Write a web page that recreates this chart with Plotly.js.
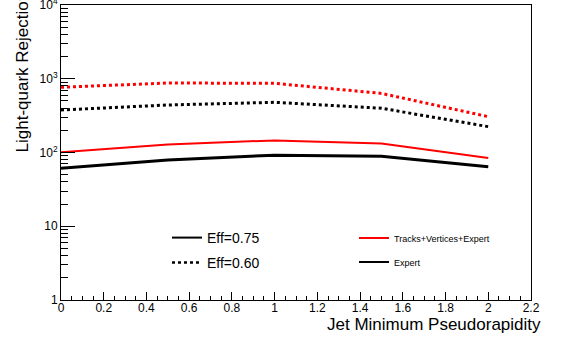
<!DOCTYPE html>
<html>
<head>
<meta charset="utf-8">
<script src="https://cdn.plot.ly/plotly-3.0.1.min.js"></script>
<style>html,body{margin:0;padding:0;background:#fff;}#chart{width:562px;height:341px;}</style>
</head>
<body>
<div id="chart"></div>
<script>
// Data
var eta = [0, 0.5, 1, 1.5, 2];
var tveEff60 = [766, 876, 867, 633, 306];
var expertEff60 = [377, 441, 479, 398, 224];
var tveEff75 = [101, 128, 146, 132, 84];
var expertEff75 = [61, 79, 92, 89, 64];

var yTickVals = [1, 10, 100, 1000, 10000];
var yTickText = ['1', '10', '10<sup>2</sup>', '10<sup>3</sup>', '10<sup>4</sup>'];

var legendEff75 = 'Eff=0.75';
var legendEff60 = 'Eff=0.60';
var legendTVE = 'Tracks+Vertices+Expert';
var legendExpert = 'Expert';
var xTitle = 'Jet Minimum Pseudorapidity';
var yTitle = 'Light-quark Rejection';

var minorY = [];
for (var k = 0; k < 4; k++) {
  for (var m = 2; m <= 9; m++) minorY.push(m * Math.pow(10, k));
}

var FONT = '"Liberation Sans", Arial, Helvetica, sans-serif';

var traces = [
  {x: eta, y: tveEff60, mode: 'lines', line: {color: '#ff0000', width: 3, dash: 'dot'}, showlegend: false, hoverinfo: 'skip'},
  {x: eta, y: expertEff60, mode: 'lines', line: {color: '#000000', width: 3, dash: 'dot'}, showlegend: false, hoverinfo: 'skip'},
  {x: eta, y: tveEff75, mode: 'lines', line: {color: '#ff0000', width: 2}, showlegend: false, hoverinfo: 'skip'},
  {x: eta, y: expertEff75, mode: 'lines', line: {color: '#000000', width: 3}, showlegend: false, hoverinfo: 'skip'},
  // legend entries
  {x: [null], y: [null], mode: 'lines', name: legendEff75, line: {color: '#000', width: 2}, legend: 'legend'},
  {x: [null], y: [null], mode: 'lines', name: legendEff60, line: {color: '#000', width: 2.5, dash: 'dot'}, legend: 'legend2'},
  {x: [null], y: [null], mode: 'lines', name: legendTVE, line: {color: '#ff0000', width: 2}, legend: 'legend3'},
  {x: [null], y: [null], mode: 'lines', name: legendExpert, line: {color: '#000', width: 2}, legend: 'legend4'}
];

function leg(x, y, size) {
  return {x: x, y: y, xanchor: 'left', yanchor: 'middle', bgcolor: 'rgba(0,0,0,0)',
          borderwidth: 0, font: {family: FONT, size: size, color: '#000'}, itemwidth: 30};
}

var layout = {
  width: 562, height: 341,
  margin: {l: 61, r: 31, t: 5, b: 41, pad: 0},
  paper_bgcolor: '#fff', plot_bgcolor: '#fff',
  font: {family: FONT, color: '#000', size: 12},
  xaxis: {
    range: [0, 2.2], dtick: 0.2, tick0: 0,
    showgrid: false, zeroline: false,
    showline: true, linecolor: '#000', linewidth: 1, mirror: true,
    ticks: 'inside', ticklen: 8, tickcolor: '#000', tickwidth: 1,
    ticklabelstandoff: -3, ticklabeloverflow: 'allow',
    minor: {dtick: 0.05, ticks: 'inside', ticklen: 4, tickcolor: '#000', showgrid: false},
    tickfont: {family: FONT, size: 12, color: '#000'}
  },
  yaxis: {
    type: 'log', range: [-0.0002, 4.0002],
    tickmode: 'array', tickvals: yTickVals, ticktext: yTickText,
    showgrid: false, zeroline: false,
    showline: true, linecolor: '#000', linewidth: 1, mirror: true,
    ticks: 'inside', ticklen: 14, tickcolor: '#000', tickwidth: 1,
    ticklabeloverflow: 'allow',
    minor: {tickmode: 'array', tickvals: minorY, ticks: 'inside', ticklen: 7, tickcolor: '#000', showgrid: false},
    tickfont: {family: FONT, size: 12, color: '#000'}
  },
  legend: leg(0.2255, 0.2102, 14),
  legend2: leg(0.2255, 0.1254, 14),
  legend3: leg(0.6234, 0.2102, 9),
  legend4: leg(0.6234, 0.1288, 9),
  annotations: [
    {text: xTitle, xref: 'paper', yref: 'paper', x: 1.0255, y: -0.0814,
     xanchor: 'right', yanchor: 'middle', showarrow: false,
     font: {family: FONT, size: 17, color: '#000'}},
    {text: yTitle, xref: 'paper', yref: 'paper', x: -0.083, y: 0.495,
     xanchor: 'center', yanchor: 'bottom', textangle: -90, showarrow: false,
     font: {family: FONT, size: 17, color: '#000'}}
  ]
};

Plotly.newPlot('chart', traces, layout, {displayModeBar: false, staticPlot: true});
</script>
</body>
</html>
